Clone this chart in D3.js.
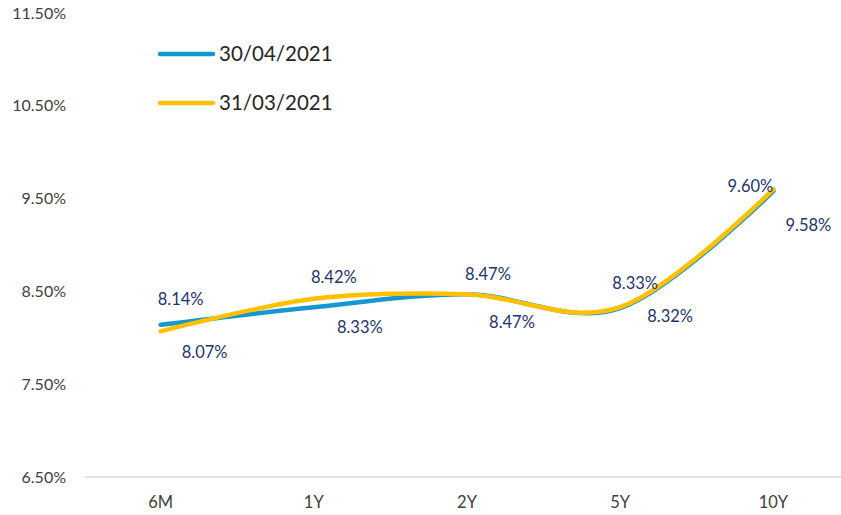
<!DOCTYPE html>
<html>
<head>
<meta charset="utf-8">
<script src="https://cdn.jsdelivr.net/npm/d3@7"></script>
<style>
  body { margin: 0; background: #fff; }
  svg { display: block; font-family: Lato, "Open Sans", sans-serif; }
</style>
</head>
<body>
<div id="chart"></div>
<script>
// chart data
const categories = ["6M", "1Y", "2Y", "5Y", "10Y"];
const seriesNames = ["30/04/2021", "31/03/2021"];
const aprilValues = [8.14, 8.33, 8.47, 8.32, 9.58];
const marchValues = [8.07, 8.42, 8.47, 8.33, 9.60];
const yTicks = [6.5, 7.5, 8.5, 9.5, 10.5, 11.5];

const colors = ["#1597d0", "#ffc000"];

// where each value label sits relative to its point (layout only)
const labelNudge = [
  [[20, -26], [46, 20], [45, 28], [50, 8], [35, 34]],
  [[44, 21], [20, -22], [21, -20], [15, -24], [-23, -3]]
];

const width = 841, height = 515;

const svg = d3.select("#chart").append("svg")
    .attr("width", width)
    .attr("height", height);

const x = d3.scaleBand()
    .domain(categories)
    .range([84, 850]);

const y = d3.scaleLinear()
    .domain([6.5, 11.5])
    .range([477, 13]);

const cx = (c) => x(c) + x.bandwidth() / 2;

// y tick labels (no axis line, no gridlines)
svg.append("g")
  .selectAll("text")
  .data(yTicks)
  .enter().append("text")
    .attr("x", 66)
    .attr("y", d => y(d))
    .attr("dy", "0.35em")
    .attr("text-anchor", "end")
    .attr("fill", "#404040")
    .style("font-size", "16px")
    .text(d => d.toFixed(2) + "%");

// x axis
const xAxis = svg.append("g")
    .attr("transform", `translate(0,${y(6.5)})`)
    .call(d3.axisBottom(x).tickSize(0).tickPadding(19));
xAxis.select(".domain")
    .attr("stroke", "#d9d9d9")
    .attr("stroke-width", 1.5)
    .attr("d", `M85,0H841`);
xAxis.selectAll("text")
    .attr("fill", "#404040")
    .style("font-family", "Lato, sans-serif")
    .style("font-size", "16.5px");

const line = d3.line()
    .x((d, i) => cx(categories[i]))
    .y(d => y(d))
    .curve(d3.curveCardinal.tension(0));

const allSeries = [aprilValues, marchValues];

svg.append("g")
  .selectAll("path")
  .data(allSeries)
  .enter().append("path")
    .attr("d", line)
    .attr("fill", "none")
    .attr("stroke", (d, i) => colors[i])
    .attr("stroke-width", 4.5)
    .attr("stroke-linecap", "round");

// value labels
allSeries.forEach((values, s) => {
  svg.append("g")
    .selectAll("text")
    .data(values)
    .enter().append("text")
      .attr("x", (d, i) => cx(categories[i]) + labelNudge[s][i][0])
      .attr("y", (d, i) => y(d) + labelNudge[s][i][1])
      .attr("dy", "0.35em")
      .attr("text-anchor", "middle")
      .attr("fill", "#1f3468")
      .style("font-size", "16.5px")
      .text(d => d.toFixed(2) + "%");
});

// legend
const legend = svg.append("g")
  .selectAll("g")
  .data(seriesNames)
  .enter().append("g")
    .attr("transform", (d, i) => `translate(160,${54 + i * 49})`);

legend.append("line")
    .attr("x1", 0).attr("x2", 53)
    .attr("stroke", (d, i) => colors[i])
    .attr("stroke-width", 4.5)
    .attr("stroke-linecap", "round");

legend.append("text")
    .attr("x", 59)
    .attr("dy", "0.35em")
    .attr("fill", "#262626")
    .style("font-size", "20.5px")
    .text(d => d);
</script>
</body>
</html>
